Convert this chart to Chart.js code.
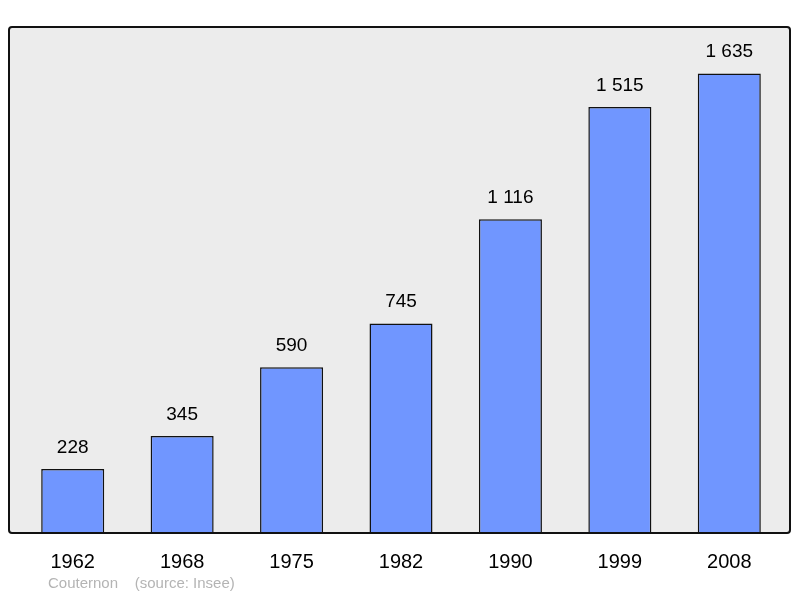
<!DOCTYPE html>
<html><head><meta charset="utf-8">
<script src="https://cdn.jsdelivr.net/npm/chart.js@4"></script>
<style>body{margin:0;background:#fff}#wrap{width:800px;height:598px}</style>
</head><body><div id="wrap"><canvas id="c"></canvas></div>
<script>
const years = ['1962','1968','1975','1982','1990','1999','2008'];
const population = [228, 345, 590, 745, 1116, 1515, 1635];
const footer = 'Couternon    (source: Insee)';

const fmt = v => String(v).replace(/\B(?=(\d{3})+(?!\d))/g, ' ');

// frame extends beyond the chart area a little, like the original
const frame = a => [a.left - 9, a.top, a.right - a.left + 15, a.bottom - a.top];

const decor = {
  id: 'decor',
  beforeDraw(chart) {
    const {ctx, chartArea: a} = chart;
    ctx.save();
    ctx.beginPath();
    ctx.roundRect(...frame(a), 3);
    ctx.fillStyle = '#ececec';
    ctx.fill();
    ctx.restore();
  },
  afterDatasetsDraw(chart) {
    const {ctx, chartArea: a} = chart;
    ctx.save();
    ctx.beginPath();
    ctx.roundRect(...frame(a), 3);
    ctx.lineWidth = 2;
    ctx.strokeStyle = '#111';
    ctx.stroke();
    ctx.font = '19px "Liberation Sans", Arial, sans-serif';
    ctx.fillStyle = '#000';
    ctx.textAlign = 'center';
    ctx.textBaseline = 'bottom';
    chart.getDatasetMeta(0).data.forEach((bar, i) => {
      ctx.fillText(fmt(population[i]), bar.x, bar.y - 12);
    });
    ctx.font = '15px "Liberation Sans", Arial, sans-serif';
    ctx.fillStyle = '#b4b4b4';
    ctx.textAlign = 'left';
    ctx.textBaseline = 'middle';
    ctx.fillText(footer, 48, 584);
    ctx.restore();
  }
};

new Chart(document.getElementById('c'), {
  type: 'bar',
  data: {
    labels: years,
    datasets: [{
      data: population,
      backgroundColor: '#7096ff',
      borderColor: '#111',
      borderWidth: 1.5,
      categoryPercentage: 1,
      barPercentage: 0.576
    }]
  },
  options: {
    responsive: true,
    maintainAspectRatio: false,
    animation: false,
    layout: {padding: {left: 18, right: 16, top: 27, bottom: 15}},
    plugins: {legend: {display: false}, tooltip: {enabled: false}},
    scales: {
      y: {display: false, min: 0, max: 1800},
      x: {
        grid: {display: false},
        border: {display: false},
        ticks: {color: '#000', padding: 9, font: {size: 20, family: '"Liberation Sans", Arial, sans-serif'}}
      }
    }
  },
  plugins: [decor]
});
</script></body></html>
